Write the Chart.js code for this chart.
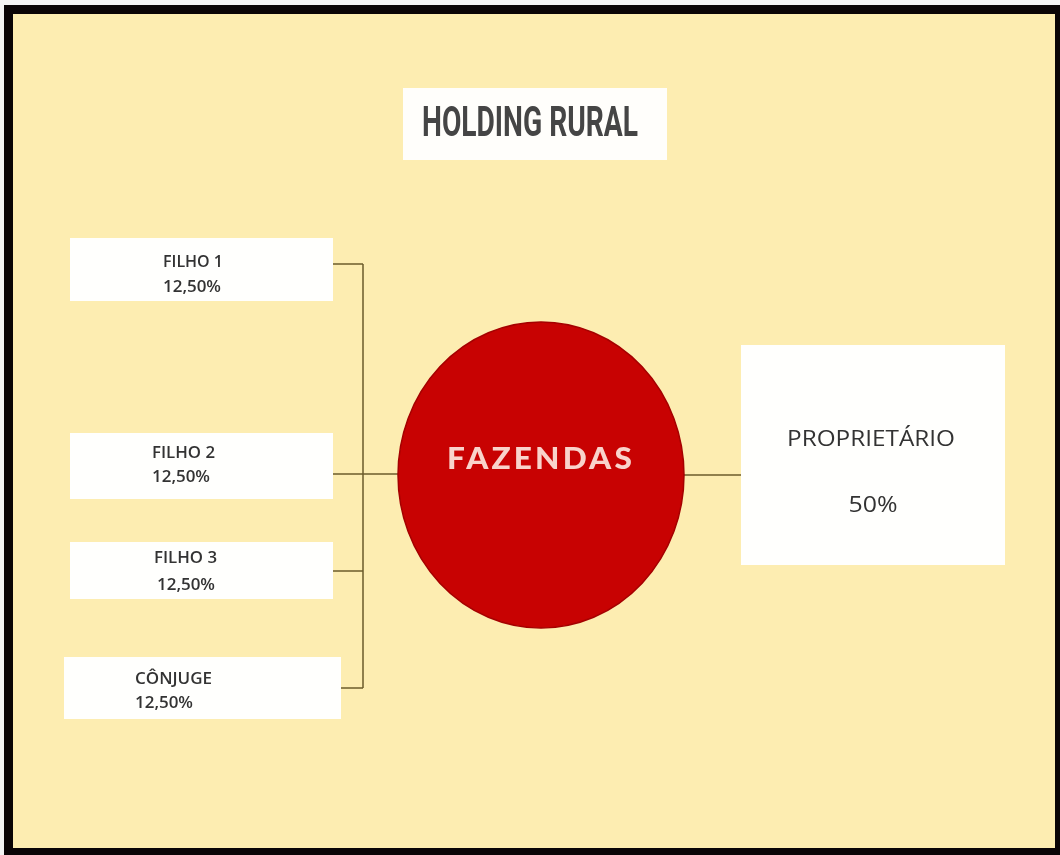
<!DOCTYPE html>
<html>
<head>
<meta charset="utf-8">
<script src="https://cdn.jsdelivr.net/npm/chart.js@4"></script>
<style>
  html, body { margin: 0; padding: 0; background: #fff; }
  canvas { display: block; }
</style>
</head>
<body>
<canvas id="holding" width="1060" height="855"></canvas>
<script>
// data
const title = "HOLDING RURAL";
const centerLabel = "FAZENDAS";
const heirs = ["FILHO 1", "FILHO 2", "FILHO 3", "CÔNJUGE"];
const heirShares = [12.5, 12.5, 12.5, 12.5];
const owner = "PROPRIETÁRIO";
const ownerShare = 50;

// layout (page pixels)
const heirBoxes = [
  { x: 70, y: 238, w: 263, h: 63, tx: 163, ty1: 262, ty2: 287, tw: 60 },
  { x: 70, y: 433, w: 263, h: 66, tx: 152, ty1: 453, ty2: 477, tw: 63 },
  { x: 70, y: 542, w: 263, h: 57, tx: 154, ty1: 558, ty2: 585, tw: 63 },
  { x: 64, y: 657, w: 277, h: 62, tx: 135, ty1: 679, ty2: 703, tw: 77 },
];
const linkY = [264, 474, 571, 688];
const spineX = 363;
const hub = { x: 541, y: 475, rx: 143, ry: 153 };
const ownerBox = { x: 741, y: 345, w: 264, h: 220 };
const titleBox = { x: 403, y: 88, w: 264, h: 72 };

const lineColor = "#6b5b2b";
const textColor = "#333333";

function fmt(v) {
  return (Number.isInteger(v) ? String(v) : v.toFixed(2).replace(".", ",")) + "%";
}

// connectors go through the chart scales
const links = heirBoxes.map((b, i) => ({
  data: [
    { x: b.x + b.w, y: linkY[i] },
    { x: i === 1 ? hub.x - hub.rx : spineX, y: linkY[i] },
  ],
}));
links.push({ data: [{ x: spineX, y: linkY[0] }, { x: spineX, y: linkY[3] }] });
links.push({ data: [{ x: hub.x + hub.rx, y: hub.y }, { x: ownerBox.x, y: hub.y }] });

function fitText(ctx, text, x, y, font, width, align) {
  ctx.save();
  ctx.font = font;
  const m = ctx.measureText(text).width;
  const s = width / m;
  ctx.translate(x, y);
  ctx.scale(s, 1);
  ctx.textAlign = align || "left";
  ctx.textBaseline = "middle";
  ctx.fillText(text, 0, 0);
  ctx.restore();
}

const diagram = {
  id: "diagram",
  beforeDraw(chart) {
    const { ctx } = chart;
    const sx = chart.scales.x, sy = chart.scales.y;
    const px = (v) => sx.getPixelForValue(v);
    const py = (v) => sy.getPixelForValue(v);
    const rect = (r, color) => {
      ctx.fillStyle = color;
      ctx.fillRect(px(r.x), py(r.y), px(r.x + r.w) - px(r.x), py(r.y + r.h) - py(r.y));
    };

    // frame
    ctx.save();
    ctx.fillStyle = "#f4f4f4";
    ctx.fillRect(0, 0, chart.width, chart.height);
    rect({ x: 4, y: 5, w: 1056, h: 850 }, "#0a0506");
    rect({ x: 13, y: 14, w: 1042, h: 834 }, "#fdedb1");

    // title
    rect(titleBox, "#fffefb");
    ctx.fillStyle = "#454545";
    fitText(ctx, title, px(422), py(125), "bold 42px Roboto", 216, "left");

    // heir boxes
    heirBoxes.forEach((b, i) => {
      rect(b, "#fffffd");
      ctx.fillStyle = textColor;
      fitText(ctx, heirs[i], px(b.tx), py(b.ty1), "600 16px 'Open Sans'", b.tw, "left");
      fitText(ctx, fmt(heirShares[i]), px(b.tx + (i === 2 ? 3 : 0)), py(b.ty2), "600 16px 'Open Sans'", 58, "left");
    });

    // owner box
    rect(ownerBox, "#fffffd");
    ctx.fillStyle = textColor;
    fitText(ctx, owner, px(871), py(440), "500 22px 'Open Sans'", 168, "center");
    fitText(ctx, fmt(ownerShare), px(873), py(506), "500 22px 'Open Sans'", 49, "center");
    ctx.restore();
  },
  afterDatasetsDraw(chart) {
    const { ctx } = chart;
    const sx = chart.scales.x, sy = chart.scales.y;
    const cx = sx.getPixelForValue(hub.x), cy = sy.getPixelForValue(hub.y);
    const rx = sx.getPixelForValue(hub.x + hub.rx) - cx;
    const ry = sy.getPixelForValue(hub.y + hub.ry) - cy;
    ctx.save();
    ctx.beginPath();
    ctx.ellipse(cx, cy, rx, ry, 0, 0, Math.PI * 2);
    ctx.fillStyle = "#c80202";
    ctx.fill();
    ctx.strokeStyle = "#a50000";
    ctx.lineWidth = 1.5;
    ctx.stroke();
    ctx.fillStyle = "#f9d3cb";
    ctx.letterSpacing = "3px";
    fitText(ctx, centerLabel, cx, sy.getPixelForValue(459), "900 30px Lato", 188, "center");
    ctx.restore();
  },
};

new Chart(document.getElementById("holding"), {
  type: "scatter",
  data: {
    datasets: links.map((l) => ({
      data: l.data,
      showLine: true,
      borderColor: lineColor,
      borderWidth: 1.5,
      pointRadius: 0,
      pointHoverRadius: 0,
    })),
  },
  options: {
    responsive: false,
    animation: false,
    devicePixelRatio: 1,
    events: [],
    layout: { padding: 0 },
    plugins: {
      legend: { display: false },
      tooltip: { enabled: false },
    },
    scales: {
      x: { type: "linear", min: 0, max: 1060, display: false },
      y: { type: "linear", min: 0, max: 855, reverse: true, display: false },
    },
  },
  plugins: [diagram],
});
</script>
</body>
</html>
